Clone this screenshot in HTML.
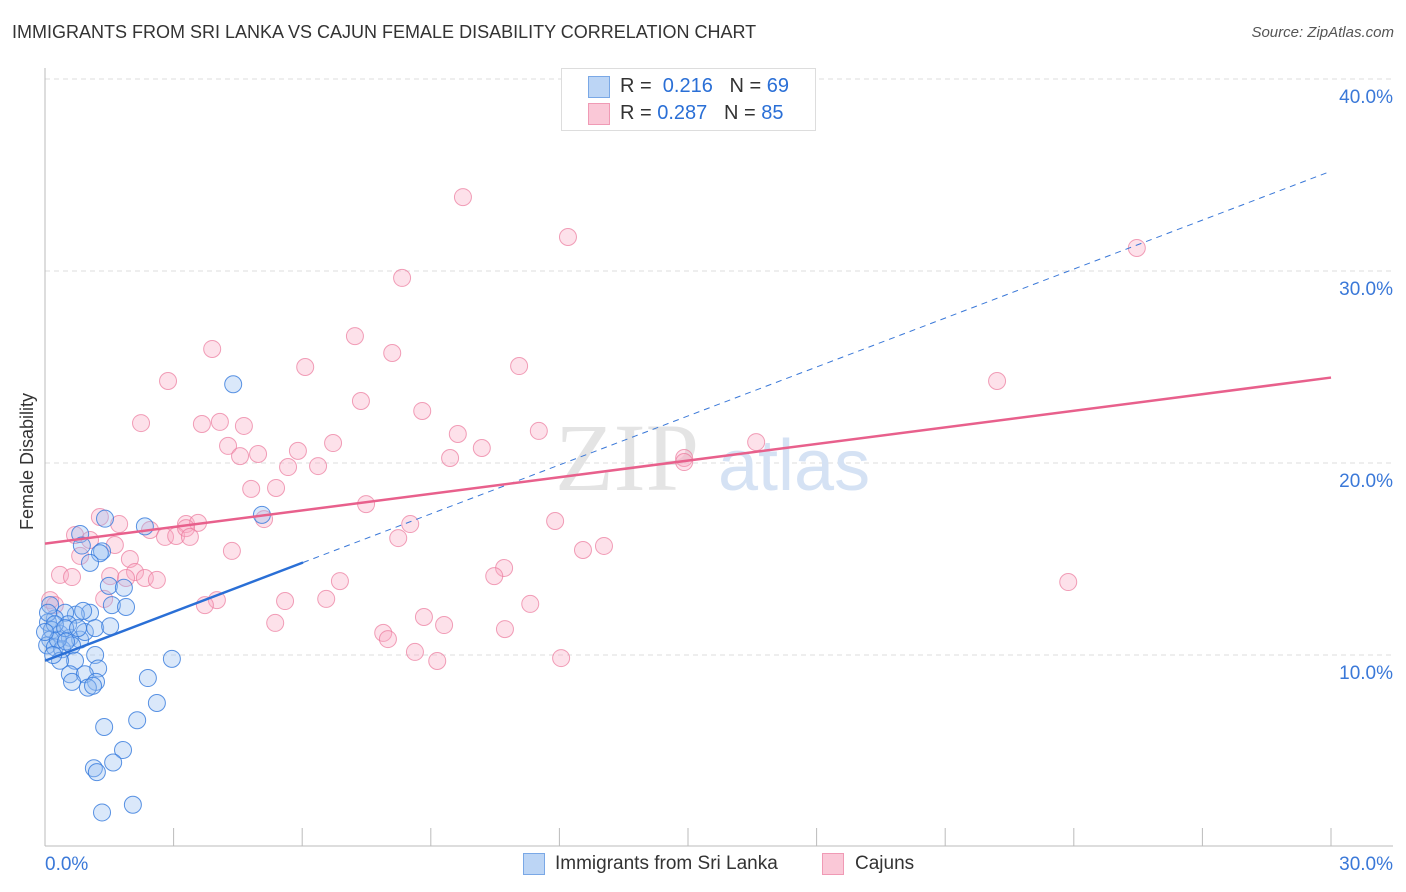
<!DOCTYPE html>
<html><head><meta charset="utf-8">
<style>
body{margin:0;background:#fff;font-family:"Liberation Sans",sans-serif;}
#wrap{position:relative;width:1406px;height:892px;overflow:hidden;}
.t{position:absolute;white-space:nowrap;}
</style></head><body>
<div id="wrap">
<div class="t" style="left:12px;top:22px;font-size:18px;color:#333;">IMMIGRANTS FROM SRI LANKA VS CAJUN FEMALE DISABILITY CORRELATION CHART</div>
<div class="t" style="right:12px;top:24px;font-size:15px;color:#555;font-style:italic;">Source: ZipAtlas.com</div>
<div class="t" style="left:8px;top:455px;font-size:18px;color:#333;transform:rotate(-90deg);transform-origin:0 0;top:530px;left:17px;">Female Disability</div>
<svg id="chart" width="1406" height="892" style="position:absolute;left:0;top:0"></svg>
</div>
<script>
const blueX=[4.39,5.06,2.33,1.40,0.82,1.33,1.28,0.86,1.05,1.49,1.84,1.56,1.89,1.05,0.72,0.47,0.23,0.07,0.16,0.35,0.58,0.82,0.12,0.05,0.23,0.40,0.63,0.93,1.17,1.52,0.89,0.54,0.30,1.17,0.70,0.35,2.96,1.24,0.58,0.93,1.19,2.40,0.63,1.00,1.12,2.61,2.15,1.38,1.82,1.59,1.14,1.21,2.05,1.33,0.12,0.07,0.23,0.47,0.0,0.19,0.77,0.49];
const blueY=[24.1,17.3,16.7,17.1,16.3,15.4,15.3,15.7,14.8,13.6,13.5,12.6,12.5,12.2,12.1,12.2,11.9,11.7,11.3,11.1,10.9,10.8,10.8,10.5,10.4,10.3,10.5,11.2,11.4,11.5,12.3,11.6,10.8,10.0,9.7,9.7,9.8,9.3,9.0,9.0,8.6,8.8,8.6,8.3,8.4,7.5,6.6,6.25,5.05,4.4,4.1,3.9,2.2,1.8,12.6,12.2,11.6,11.4,11.2,10.0,11.4,10.7];
const pinkX=[9.75,12.2,8.33,25.47,3.9,7.23,8.1,6.07,11.06,2.87,22.21,7.37,8.8,2.24,4.08,4.64,3.66,9.63,11.52,6.72,4.27,4.97,4.55,5.9,10.19,9.45,16.59,14.91,14.91,6.37,5.67,4.81,5.39,7.49,5.11,1.28,1.73,11.9,8.52,3.29,3.57,0.7,2.45,2.8,3.06,3.29,3.38,8.24,13.04,12.55,1.05,1.63,4.36,0.82,1.98,2.1,1.52,1.89,2.33,2.61,0.35,0.63,6.88,10.71,10.48,23.87,1.38,4.01,3.73,5.6,6.56,11.32,0.12,0.23,8.84,5.37,9.31,7.89,10.73,8.0,8.63,9.15,12.04];
const pinkY=[33.85,31.77,29.64,31.2,25.94,26.61,25.73,25.0,25.05,24.27,24.27,23.23,22.71,22.08,22.14,21.93,22.03,21.51,21.67,21.04,20.89,20.47,20.36,20.63,20.78,20.26,21.09,20.26,20.05,19.84,19.79,18.65,18.7,17.86,17.08,17.19,16.82,16.98,16.82,16.82,16.88,16.25,16.51,16.15,16.2,16.61,16.15,16.09,15.68,15.47,15.99,15.73,15.42,15.16,15.0,14.32,14.11,14.01,14.01,13.91,14.17,14.06,13.85,14.53,14.11,13.8,12.92,12.86,12.6,12.81,12.92,12.66,12.86,12.6,11.98,11.67,11.56,11.15,11.35,10.83,10.16,9.69,9.84];
const yTicks=[10,20,30,40];
const yTickLabels=["10.0%","20.0%","30.0%","40.0%"];
const xEndLabels=["0.0%","30.0%"];
const blueTrend=[9.7,35.2];
const pinkTrend=[15.8,24.45];
const blueSolidEnd=6.02;

const X=v=>45+v/30*1286;
const Y=v=>847-v*19.2;
const svg=document.getElementById('chart');
const NS='http://www.w3.org/2000/svg';
function mk(tag,attrs,name){const e=document.createElementNS(NS,tag);for(const k in attrs)e.setAttribute(k,attrs[k]);


svg.appendChild(e);return e;}
// gridlines
yTicks.forEach((t,i)=>{
 mk('line',{x1:45,x2:1393,y1:Y(t),y2:Y(t),stroke:'#ddd','stroke-dasharray':'5,4'},'y-gridline');
 const tx=mk('text',{x:1393,y:Y(t)+24,'text-anchor':'end','font-size':19,fill:'#3a78d8','font-family':'Liberation Sans'},'y-tick-label');tx.textContent=yTickLabels[i];
});
mk('line',{x1:45,x2:45,y1:68,y2:846,stroke:'#bbb'},'y-axis-line');
mk('line',{x1:45,x2:1393,y1:846,y2:846,stroke:'#bbb'},'x-axis-line');
for(let i=0;i<=10;i++){mk('line',{x1:X(i*3),x2:X(i*3),y1:828,y2:846,stroke:'#bbb'},'x-tick');}
let tl=mk('text',{x:45,y:870,'font-size':19,fill:'#3a78d8','font-family':'Liberation Sans'},'x-tick-label');tl.textContent=xEndLabels[0];
tl=mk('text',{x:1393,y:870,'text-anchor':'end','font-size':19,fill:'#3a78d8','font-family':'Liberation Sans'},'x-tick-label');tl.textContent=xEndLabels[1];
// watermark
let wm=mk('text',{x:555,y:490,'font-size':96,fill:'#e4e4e4','font-family':'Liberation Serif'},'watermark-zip');wm.textContent='ZIP';
wm=mk('text',{x:718,y:490,'font-size':72,fill:'#d5e2f4','font-family':'Liberation Sans'},'watermark-atlas');wm.textContent='atlas';
// points
pinkX.forEach((v,i)=>mk('circle',{cx:X(v),cy:Y(pinkY[i]),r:8.5,fill:'rgba(248,170,195,0.35)',stroke:'rgba(235,120,155,0.7)','stroke-width':1},'cajun-point'));
blueX.forEach((v,i)=>mk('circle',{cx:X(v),cy:Y(blueY[i]),r:8.5,fill:'rgba(150,190,240,0.35)',stroke:'rgba(50,120,220,0.8)','stroke-width':1},'sri-lanka-point'));
// trends
const by=x=>blueTrend[0]+(blueTrend[1]-blueTrend[0])*x/30;
mk('line',{x1:X(blueSolidEnd),y1:Y(by(blueSolidEnd)),x2:X(30),y2:Y(blueTrend[1]),stroke:'#3a78d8','stroke-width':1,'stroke-dasharray':'6,5'},'sri-lanka-trend-dashed');
mk('line',{x1:X(0),y1:Y(blueTrend[0]),x2:X(blueSolidEnd),y2:Y(by(blueSolidEnd)),stroke:'#2a6fd6','stroke-width':2.5},'sri-lanka-trend');
mk('line',{x1:X(0),y1:Y(pinkTrend[0]),x2:X(30),y2:Y(pinkTrend[1]),stroke:'#e8608c','stroke-width':2.5},'cajun-trend');
</script>
<div class="t" style="left:561px;top:68px;width:253px;height:61px;border:1px solid #ddd;background:#fff;">
 <div style="position:absolute;left:26px;top:7px;width:20px;height:20px;background:#bcd5f5;border:1px solid #7aa8e6;"></div>
 <div style="position:absolute;left:26px;top:34px;width:20px;height:20px;background:#fac8d7;border:1px solid #f09ab5;"></div>
 <div class="t" style="left:58px;top:6px;font-size:20px;color:#333;">R = &nbsp;<span style="color:#2a6fd6">0.216</span> &nbsp;&nbsp;N = <span style="color:#2a6fd6">69</span></div>
 <div class="t" style="left:58px;top:33px;font-size:20px;color:#333;">R = <span style="color:#2a6fd6">0.287</span> &nbsp;&nbsp;N = <span style="color:#2a6fd6">85</span></div>
</div>
<div class="t" style="left:523px;top:853px;width:20px;height:20px;background:#bcd5f5;border:1px solid #7aa8e6;"></div>
<div class="t" style="left:555px;top:853px;font-size:19px;color:#333;">Immigrants from Sri Lanka</div>
<div class="t" style="left:822px;top:853px;width:20px;height:20px;background:#fac8d7;border:1px solid #f09ab5;"></div>
<div class="t" style="left:855px;top:853px;font-size:19px;color:#333;">Cajuns</div>
</body></html>
